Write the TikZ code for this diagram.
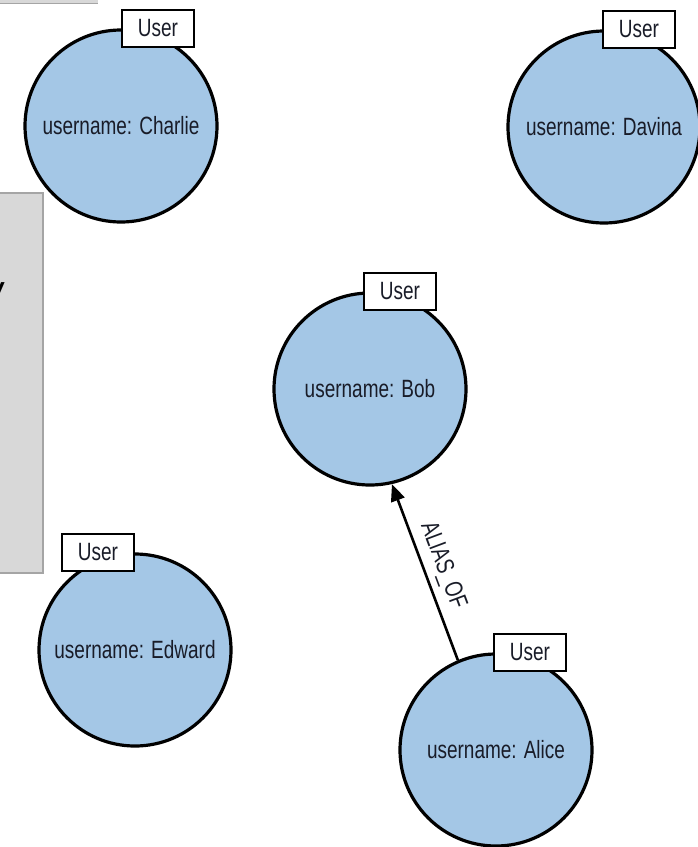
\documentclass[tikz,border=0pt]{standalone}
\usepackage{fontspec}
\setmainfont[FakeStretch=0.76]{Liberation Sans}
\usetikzlibrary{positioning,arrows.meta}
\definecolor{userblue}{RGB}{164,199,230}
\definecolor{inkdark}{RGB}{25,28,40}
\definecolor{panelgray}{RGB}{216,216,216}
\definecolor{paneledge}{RGB}{165,165,165}
\tikzset{
  user/.style={circle,draw=black,line width=3.2pt,fill=userblue,minimum size=192pt,
    inner sep=0pt,text=inkdark,font=\fontsize{25}{28}\selectfont},
  userbox/.style={rectangle,draw=black,line width=2.8pt,fill=white,minimum width=72pt,
    minimum height=37pt,inner sep=0pt,text=inkdark,font=\fontsize{25}{28}\selectfont},
  >={Triangle[length=17pt,width=14pt]},
}

\begin{document}
\begin{tikzpicture}[x=1pt,y=-1pt]
  \useasboundingbox (0,0) rectangle (698,847);
  % leftover panels at the left edge
  \fill[panelgray] (0,0) rectangle (98,3);
  \draw[paneledge,line width=1pt] (0,3) -- (98,3);
  \fill[panelgray] (0,193) rectangle (43,573);
  \draw[paneledge,line width=2pt] (0,193) -- (43,193) -- (43,573) -- (0,573);
  \node[font=\bfseries\itshape\fontsize{32}{34}\selectfont] (frag) at (-3,291) {v};

  \node[user] (charlie) at (121,126)   {username: Charlie};
  \node[user] (davina)  at (604,127)   {username: Davina};
  \node[user] (bob)     at (370,389)   {username: Bob};
  \node[user] (edward)  at (135,650)   {username: Edward};
  \node[user] (alice)   at (496,750)   {username: Alice};

  \node[userbox] (charlie-l) at ([xshift=37pt]charlie.north) {User};
  \node[userbox] (davina-l)  at ([xshift=35pt]davina.north)  {User};
  \node[userbox] (bob-l)     at ([xshift=30pt]bob.north)     {User};
  \node[userbox] (edward-l)  at ([xshift=-37pt]edward.north) {User};
  \node[userbox] (alice-l)   at ([xshift=34pt]alice.north)   {User};

  \path[->,line width=2.6pt]
    (alice.113) edge node[sloped,above=3pt,text=inkdark,
      font=\fontsize{25}{28}\selectfont] {ALIAS\_OF} (bob.-77);
\end{tikzpicture}
\end{document}
